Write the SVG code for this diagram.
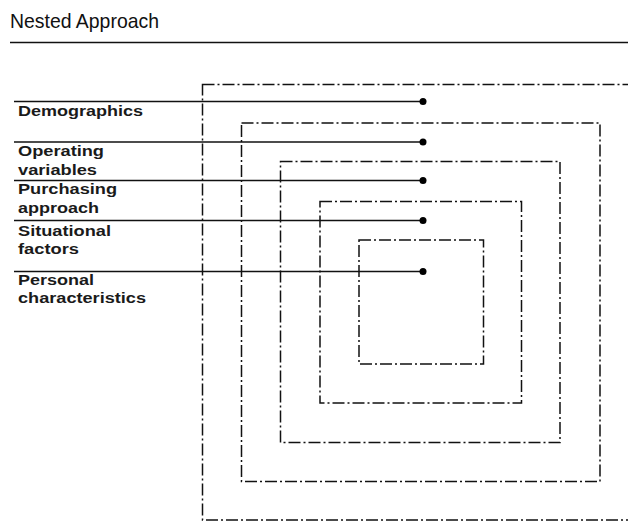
<svg xmlns="http://www.w3.org/2000/svg" width="628" height="521" viewBox="0 0 628 521">
<style>
.box{fill:none;stroke:#111;stroke-width:1.5;stroke-dasharray:12 3 2 3}
.ln{stroke:#111;stroke-width:1.5;fill:none}
.dot{fill:#000}
.lbl{font-family:"Liberation Sans",Arial,sans-serif;font-weight:bold;font-size:14.5px;fill:#1a1a1a}
.title{font-family:"Liberation Sans",Arial,sans-serif;font-size:21px;fill:#111}
</style>
<rect width="628" height="521" fill="#fff"/>
<g id="title">
<text class="title" x="10" y="28" textLength="149" lengthAdjust="spacingAndGlyphs">Nested Approach</text>
<line x1="10" y1="42.5" x2="628" y2="42.5" stroke="#111" stroke-width="1.6"/>
</g>
<g id="box-demographics"><rect class="box" x="202.5" y="84.5" width="440" height="435.5"/></g>
<g id="box-operating"><rect class="box" x="241.5" y="123" width="358.5" height="358.5"/></g>
<g id="box-purchasing"><rect class="box" x="280.5" y="161.5" width="279.5" height="281"/></g>
<g id="box-situational"><rect class="box" x="320" y="201.5" width="201.5" height="201.5"/></g>
<g id="box-personal"><rect class="box" x="359" y="240" width="124.5" height="124"/></g>
<g id="connectors">
<line class="ln" x1="14" y1="101.5" x2="423" y2="101.5"/><circle class="dot" cx="423" cy="101.5" r="3.5"/>
<line class="ln" x1="14" y1="142" x2="423" y2="142"/><circle class="dot" cx="423" cy="142" r="3.5"/>
<line class="ln" x1="14" y1="180.5" x2="423" y2="180.5"/><circle class="dot" cx="423" cy="180.5" r="3.5"/>
<line class="ln" x1="14" y1="220.5" x2="423" y2="220.5"/><circle class="dot" cx="423" cy="220.5" r="3.5"/>
<line class="ln" x1="14" y1="271.5" x2="423" y2="271.5"/><circle class="dot" cx="423" cy="271.5" r="3.5"/>
</g>
<g id="label-demographics"><text class="lbl" x="18" y="116" textLength="125" lengthAdjust="spacingAndGlyphs">Demographics</text></g>
<g id="label-operating"><text class="lbl" x="18" y="156" textLength="86" lengthAdjust="spacingAndGlyphs">Operating</text><text class="lbl" x="18" y="174.5" textLength="79" lengthAdjust="spacingAndGlyphs">variables</text></g>
<g id="label-purchasing"><text class="lbl" x="18" y="194" textLength="99" lengthAdjust="spacingAndGlyphs">Purchasing</text><text class="lbl" x="18" y="212.5" textLength="81" lengthAdjust="spacingAndGlyphs">approach</text></g>
<g id="label-situational"><text class="lbl" x="18" y="235.5" textLength="93" lengthAdjust="spacingAndGlyphs">Situational</text><text class="lbl" x="18" y="254" textLength="61" lengthAdjust="spacingAndGlyphs">factors</text></g>
<g id="label-personal"><text class="lbl" x="18" y="284.5" textLength="76" lengthAdjust="spacingAndGlyphs">Personal</text><text class="lbl" x="18" y="302.5" textLength="128" lengthAdjust="spacingAndGlyphs">characteristics</text></g>
</svg>
